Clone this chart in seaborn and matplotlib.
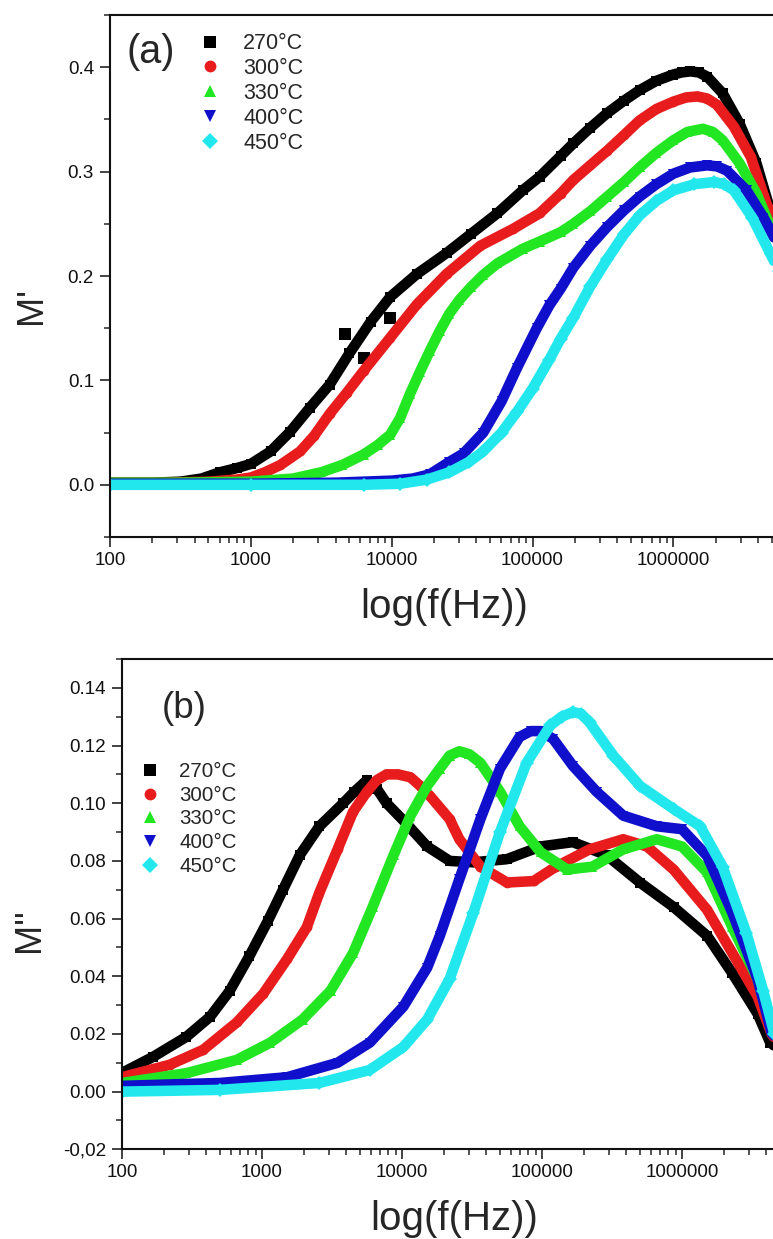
import numpy as np
import pandas as pd
import matplotlib
matplotlib.use("Agg")
import matplotlib.pyplot as plt
from matplotlib.lines import Line2D
import seaborn as sns

# ---- data (log10 of frequency, modulus) ----
temps = ["270°C", "300°C", "330°C", "400°C", "450°C"]
colors = ["#000000", "#e81c1c", "#22e622", "#1010cc", "#22e8ee"]
markers = ["s", "o", "^", "v", "D"]

# panel (a): M'
a_logf_270 = [2.0, 2.3, 2.5, 2.65, 2.78, 2.9, 3.0, 3.14, 3.28, 3.42, 3.56, 3.70, 3.85, 3.99,
              4.18, 4.39, 4.56, 4.75, 4.93, 5.05, 5.20, 5.29, 5.41, 5.53, 5.65, 5.76, 5.88,
              6.00, 6.06, 6.12, 6.18, 6.24, 6.35, 6.47, 6.59, 6.69, 6.75]
a_m_270 = [0.002, 0.002, 0.003, 0.006, 0.012, 0.016, 0.020, 0.032, 0.051, 0.074, 0.096, 0.126,
           0.156, 0.180, 0.202, 0.222, 0.240, 0.260, 0.282, 0.295, 0.315, 0.327, 0.342, 0.356,
           0.368, 0.378, 0.387, 0.393, 0.395, 0.396, 0.395, 0.391, 0.375, 0.346, 0.308, 0.262,
           0.235]
a_logf_300 = [2.0, 2.4, 2.7, 2.9, 3.0, 3.1, 3.21, 3.35, 3.45, 3.56, 3.68, 3.80, 3.99, 4.18,
              4.39, 4.63, 4.86, 5.05, 5.20, 5.29, 5.41, 5.53, 5.65, 5.76, 5.88, 6.00, 6.09,
              6.17, 6.24, 6.31, 6.43, 6.55, 6.67, 6.75]
a_m_300 = [0.002, 0.002, 0.003, 0.005, 0.007, 0.012, 0.019, 0.032, 0.047, 0.068, 0.088, 0.109,
           0.141, 0.173, 0.202, 0.229, 0.245, 0.260, 0.279, 0.292, 0.306, 0.320, 0.335, 0.349,
           0.360, 0.367, 0.371, 0.372, 0.370, 0.364, 0.343, 0.314, 0.266, 0.238]
a_logf_330 = [2.0, 2.5, 3.0, 3.3, 3.5, 3.65, 3.80, 3.90, 3.99, 4.06, 4.13, 4.20, 4.27, 4.34,
              4.41, 4.48, 4.56, 4.65, 4.75, 4.93, 5.05, 5.20, 5.29, 5.41, 5.53, 5.65, 5.76,
              5.88, 6.00, 6.10, 6.21, 6.28, 6.35, 6.47, 6.59, 6.69, 6.75]
a_m_330 = [0.002, 0.002, 0.003, 0.006, 0.012, 0.019, 0.029, 0.038, 0.048, 0.064, 0.087, 0.108,
           0.128, 0.147, 0.164, 0.177, 0.189, 0.201, 0.212, 0.226, 0.233, 0.242, 0.250, 0.262,
           0.276, 0.290, 0.304, 0.318, 0.330, 0.338, 0.341, 0.338, 0.330, 0.308, 0.279, 0.247,
           0.230]
a_logf_400 = [2.0, 3.0, 3.6, 4.0, 4.15, 4.27, 4.41, 4.51, 4.65, 4.78, 4.89, 5.03, 5.12, 5.20,
              5.29, 5.41, 5.53, 5.65, 5.76, 5.88, 6.00, 6.12, 6.24, 6.31, 6.38, 6.52, 6.64, 6.75]
a_m_400 = [0.001, 0.001, 0.002, 0.004, 0.006, 0.010, 0.022, 0.030, 0.050, 0.080, 0.112, 0.150,
           0.172, 0.188, 0.208, 0.229, 0.247, 0.263, 0.276, 0.288, 0.298, 0.304, 0.306, 0.305,
           0.301, 0.282, 0.256, 0.228]
a_logf_450 = [2.0, 3.0, 3.8, 4.06, 4.25, 4.41, 4.55, 4.65, 4.78, 4.89, 5.00, 5.12, 5.20, 5.29,
              5.41, 5.53, 5.65, 5.76, 5.88, 6.00, 6.15, 6.29, 6.36, 6.43, 6.56, 6.69, 6.75]
a_m_450 = [0.0, 0.0, 0.0, 0.001, 0.005, 0.012, 0.022, 0.032, 0.050, 0.070, 0.092, 0.120, 0.140,
           0.160, 0.190, 0.216, 0.240, 0.258, 0.272, 0.282, 0.288, 0.290, 0.288, 0.282, 0.256,
           0.221, 0.205]
# a few stray 270°C points
a_stray_logf = [3.67, 3.80, 3.99]
a_stray_m = [0.144, 0.121, 0.160]

# panel (b): M''
b_logf_270 = [2.0, 2.22, 2.46, 2.63, 2.77, 2.91, 3.04, 3.15, 3.27, 3.41, 3.58, 3.66, 3.75, 3.82,
              3.89, 4.03, 4.18, 4.34, 4.51, 4.75, 4.99, 5.22, 5.46, 5.70, 5.94, 6.18, 6.36,
              6.54, 6.63, 6.74]
b_m_270 = [0.0065, 0.012, 0.019, 0.026, 0.035, 0.047, 0.059, 0.070, 0.082, 0.092, 0.100, 0.104,
           0.108, 0.105, 0.100, 0.093, 0.085, 0.080, 0.0795, 0.0806, 0.085, 0.0865, 0.082,
           0.0725, 0.064, 0.054, 0.041, 0.027, 0.017, 0.013]
b_logf_300 = [2.0, 2.34, 2.58, 2.82, 3.01, 3.18, 3.32, 3.41, 3.54, 3.65, 3.75, 3.82, 3.89, 3.97,
              4.06, 4.13, 4.20, 4.34, 4.41, 4.56, 4.75, 4.94, 5.10, 5.34, 5.58, 5.75, 5.94,
              6.18, 6.36, 6.54, 6.64, 6.74]
b_m_300 = [0.005, 0.0093, 0.0145, 0.024, 0.034, 0.046, 0.057, 0.069, 0.084, 0.097, 0.104, 0.108,
           0.110, 0.110, 0.109, 0.106, 0.1025, 0.0945, 0.0875, 0.078, 0.0725, 0.073, 0.078,
           0.084, 0.0875, 0.085, 0.077, 0.063, 0.048, 0.033, 0.020, 0.014]
b_logf_330 = [2.0, 2.46, 2.82, 3.06, 3.29, 3.49, 3.65, 3.79, 3.94, 4.06, 4.18, 4.27, 4.34, 4.41,
              4.48, 4.56, 4.70, 4.84, 4.99, 5.18, 5.36, 5.58, 5.82, 6.00, 6.18, 6.36, 6.54,
              6.64, 6.74]
b_m_330 = [0.003, 0.0064, 0.011, 0.017, 0.025, 0.035, 0.048, 0.064, 0.082, 0.0956, 0.106,
           0.112, 0.1165, 0.118, 0.117, 0.114, 0.104, 0.092, 0.083, 0.077, 0.078, 0.084,
           0.0875, 0.085, 0.076, 0.057, 0.039, 0.0214, 0.015]
b_logf_400 = [2.0, 2.7, 3.18, 3.54, 3.77, 4.01, 4.18, 4.27, 4.41, 4.56, 4.70, 4.84, 4.92, 4.99,
              5.08, 5.22, 5.39, 5.58, 5.82, 6.00, 6.18, 6.36, 6.54, 6.64, 6.74]
b_m_400 = [0.002, 0.003, 0.005, 0.010, 0.017, 0.0295, 0.043, 0.054, 0.0737, 0.0945, 0.112,
           0.123, 0.125, 0.125, 0.1223, 0.113, 0.104, 0.0957, 0.092, 0.091, 0.0817, 0.062,
           0.039, 0.0204, 0.015]
b_logf_450 = [2.0, 2.7, 3.41, 3.77, 4.01, 4.18, 4.34, 4.51, 4.70, 4.89, 5.06, 5.14, 5.22, 5.28,
              5.34, 5.51, 5.70, 5.94, 6.13, 6.29, 6.46, 6.58, 6.66, 6.74]
b_m_450 = [0.0, 0.0006, 0.003, 0.0075, 0.0155, 0.025, 0.039, 0.062, 0.090, 0.114, 0.127, 0.130,
           0.1316, 0.131, 0.128, 0.1165, 0.106, 0.098, 0.092, 0.078, 0.055, 0.035, 0.020, 0.015]

x_ticks = [100, 1000, 10000, 100000, 1000000]
x_ticklabels = ["100", "1000", "10000", "100000", "1000000"]
a_yticks = [0.0, 0.1, 0.2, 0.3, 0.4]
a_yticklabels = ["0.0", "0.1", "0.2", "0.3", "0.4"]
b_yticks = [-0.02, 0.0, 0.02, 0.04, 0.06, 0.08, 0.10, 0.12, 0.14]
b_yticklabels = ["-0,02", "0.00", "0.02", "0.04", "0.06", "0.08", "0.10", "0.12", "0.14"]


def build_frame(logfs, values):
    rows = []
    for temp, lf, m in zip(temps, logfs, values):
        rows.append(pd.DataFrame({"f": 10 ** np.array(lf), "M": m, "T": temp}))
    return pd.concat(rows, ignore_index=True)


df_a = build_frame([a_logf_270, a_logf_300, a_logf_330, a_logf_400, a_logf_450],
                   [a_m_270, a_m_300, a_m_330, a_m_400, a_m_450])
df_b = build_frame([b_logf_270, b_logf_300, b_logf_330, b_logf_400, b_logf_450],
                   [b_m_270, b_m_300, b_m_330, b_m_400, b_m_450])

sns.set_style("ticks")
plt.rcParams["font.family"] = ["Liberation Sans", "DejaVu Sans"]

W, H = 773, 1239
fig = plt.figure(figsize=(W / 100, H / 100), dpi=100)
palette = dict(zip(temps, colors))
marker_map = dict(zip(temps, markers))


def px_axes(left, top, right, bottom):
    return fig.add_axes([left / W, 1 - bottom / H, (right - left) / W, (bottom - top) / H])


def draw_panel(ax, df, ylim, yticks, yticklabels, yminor):
    sns.lineplot(data=df, x="f", y="M", hue="T", style="T", hue_order=temps, style_order=temps,
                 palette=palette, markers=marker_map, dashes=False, sort=False, estimator=None,
                 linewidth=7.6, markersize=7, markeredgewidth=0, solid_joinstyle="round",
                 solid_capstyle="round", legend=False, ax=ax)
    ax.set_xscale("log")
    ax.set_xlim(100, 10 ** 6.743)
    ax.set_ylim(*ylim)
    ax.set_xticks(x_ticks, labels=x_ticklabels)
    ax.xaxis.set_minor_formatter(matplotlib.ticker.NullFormatter())
    ax.set_yticks(yticks, labels=yticklabels)
    ax.yaxis.set_minor_locator(matplotlib.ticker.MultipleLocator(yminor))
    ax.tick_params(which="major", direction="out", length=7, width=1.1, labelsize=13.6,
                   colors="#111111")
    ax.tick_params(which="minor", direction="out", length=4.2, width=1.1)
    ax.tick_params(axis="y", pad=4.5)
    for s in ax.spines.values():
        s.set_linewidth(1.5)
        s.set_color("#111111")
    ax.set_xlabel("")
    ax.set_ylabel("")


ax_a = px_axes(110, 15, 778, 537)
draw_panel(ax_a, df_a, (-0.05, 0.45), a_yticks, a_yticklabels, 0.05)
ax_a.scatter(10 ** np.array(a_stray_logf), a_stray_m, marker="s", s=70, color=colors[0],
             linewidths=0, zorder=1)

ax_b = px_axes(122, 659, 786, 1149.3)
draw_panel(ax_b, df_b, (-0.02, 0.15), b_yticks, b_yticklabels, 0.01)

# axis titles
ax_a.set_xlabel("log(f(Hz))", fontsize=29)
ax_a.xaxis.set_label_coords(0.5, (537 - 588) / 522)
ax_b.set_xlabel("log(f(Hz))", fontsize=29)
ax_b.xaxis.set_label_coords(0.5, (1149.3 - 1200) / 490.3)
fig.text(32 / W, 1 - 305 / H, "M'", rotation=90, ha="center", va="center", fontsize=26)
fig.text(30 / W, 1 - 930 / H, "M''", rotation=90, ha="center", va="center", fontsize=26)

# panel tags
fig.text(151 / W, 1 - 52 / H, "(a)", ha="center", va="center", fontsize=28.5)
fig.text(184 / W, 1 - 708 / H, "(b)", ha="center", va="center", fontsize=26.5)

# legends (markers only)
handles = [Line2D([], [], linestyle="none", marker=m, color=c, markersize=8.5, markeredgewidth=0)
           for m, c in zip(markers, colors)]
fig.legend(handles, temps, loc="upper left", bbox_to_anchor=(199.6 / W, 1 - 33.1 / H),
           frameon=False, fontsize=15.5, handlelength=1.0, handletextpad=1.02,
           labelspacing=0.18, borderpad=0, borderaxespad=0)
fig.legend(handles, temps, loc="upper left", bbox_to_anchor=(139.6 / W, 1 - 762 / H),
           frameon=False, fontsize=14.8, handlelength=1.0, handletextpad=0.92,
           labelspacing=0.23, borderpad=0, borderaxespad=0)

fig.savefig("out.png", dpi=100, facecolor="white")
